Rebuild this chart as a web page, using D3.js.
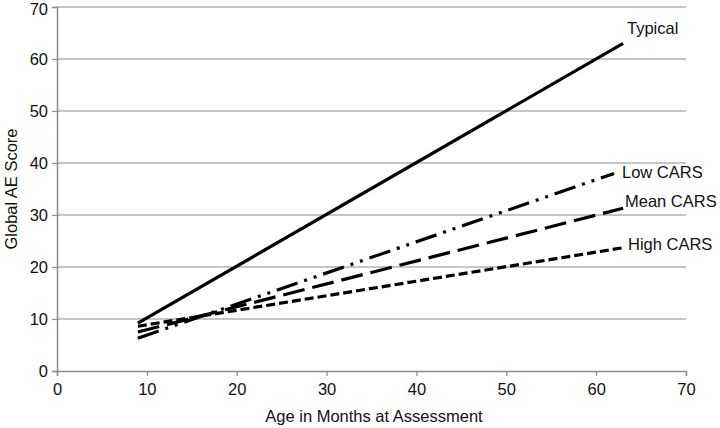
<!DOCTYPE html>
<html><head><meta charset="utf-8">
<script src="https://cdn.jsdelivr.net/npm/d3@7"></script>
<style>body{margin:0;background:#fff}text{font-family:"Liberation Sans",Arial,sans-serif}</style>
</head><body><svg id="c" width="720" height="428"></svg>
<script>
const seriesNames = ["Typical", "Low CARS", "Mean CARS", "High CARS"];
const startAge = [9, 9, 9, 9];
const startScore = [9.2, 6.3, 7.5, 8.6];
const endAge = [63, 62, 63, 63];
const endScore = [63, 38, 31.3, 23.7];
const xTicks = [0, 10, 20, 30, 40, 50, 60, 70];
const yTicks = [0, 10, 20, 30, 40, 50, 60, 70];
const dashes = [null, "22,7,3,7,3,7", "22,8", "9,4"];

const svg = d3.select("#c");
const m = {l: 57, r: 34, t: 7, b: 57};
const W = 720, H = 428;
const FS = 16.5;
const x = d3.scaleLinear().domain([0, 70]).range([m.l, W - m.r]);
const y = d3.scaleLinear().domain([0, 70]).range([H - m.b, m.t]);

svg.append("g").selectAll("line").data(yTicks.filter(d => d > 0)).join("line")
  .attr("x1", x(0)).attr("x2", x(70)).attr("y1", d => y(d)).attr("y2", d => y(d))
  .attr("stroke", "#8c8c8c").attr("stroke-width", 1.2);

const yAxis = svg.append("g").attr("transform", `translate(${x(0)},0)`)
  .call(d3.axisLeft(y).tickValues(yTicks).tickSize(5).tickPadding(4));
const xAxis = svg.append("g").attr("transform", `translate(0,${y(0)})`)
  .call(d3.axisBottom(x).tickValues(xTicks).tickSize(5).tickPadding(7));
[xAxis, yAxis].forEach(a => {
  a.select(".domain").attr("stroke", "#8c8c8c").attr("stroke-width", 1.5);
  a.selectAll(".tick line").attr("stroke", "#8c8c8c").attr("stroke-width", 1.2);
  a.selectAll(".tick text").attr("font-size", FS).attr("fill", "#111")
    .attr("font-family", '"Liberation Sans",Arial,sans-serif');
});
yAxis.selectAll(".tick").filter(d => d === 70).select("text").attr("dy", "0.46em");

const data = seriesNames.map((n, i) => ({name: n, pts: [[startAge[i], startScore[i]], [endAge[i], endScore[i]]], dash: dashes[i]}));
const line = d3.line().x(d => x(d[0])).y(d => y(d[1]));
svg.append("g").selectAll("path").data(data).join("path")
  .attr("d", d => line(d.pts)).attr("fill", "none").attr("stroke", "#000")
  .attr("stroke-width", 3.2).attr("stroke-dasharray", d => d.dash);

const labelPos = [[627, 34], [622, 178], [625, 207], [628, 250]];
svg.append("g").selectAll("text").data(data).join("text")
  .attr("x", (d, i) => labelPos[i][0]).attr("y", (d, i) => labelPos[i][1])
  .attr("font-size", FS).attr("fill", "#111").text(d => d.name);

svg.append("text").attr("x", 374).attr("y", 422).attr("text-anchor", "middle")
  .attr("font-size", FS).attr("fill", "#111").text("Age in Months at Assessment");
svg.append("text").attr("transform", `translate(17,${(y(0) + y(70)) / 2}) rotate(-90)`)
  .attr("text-anchor", "middle").attr("font-size", FS).attr("fill", "#111").text("Global AE Score");
</script></body></html>
